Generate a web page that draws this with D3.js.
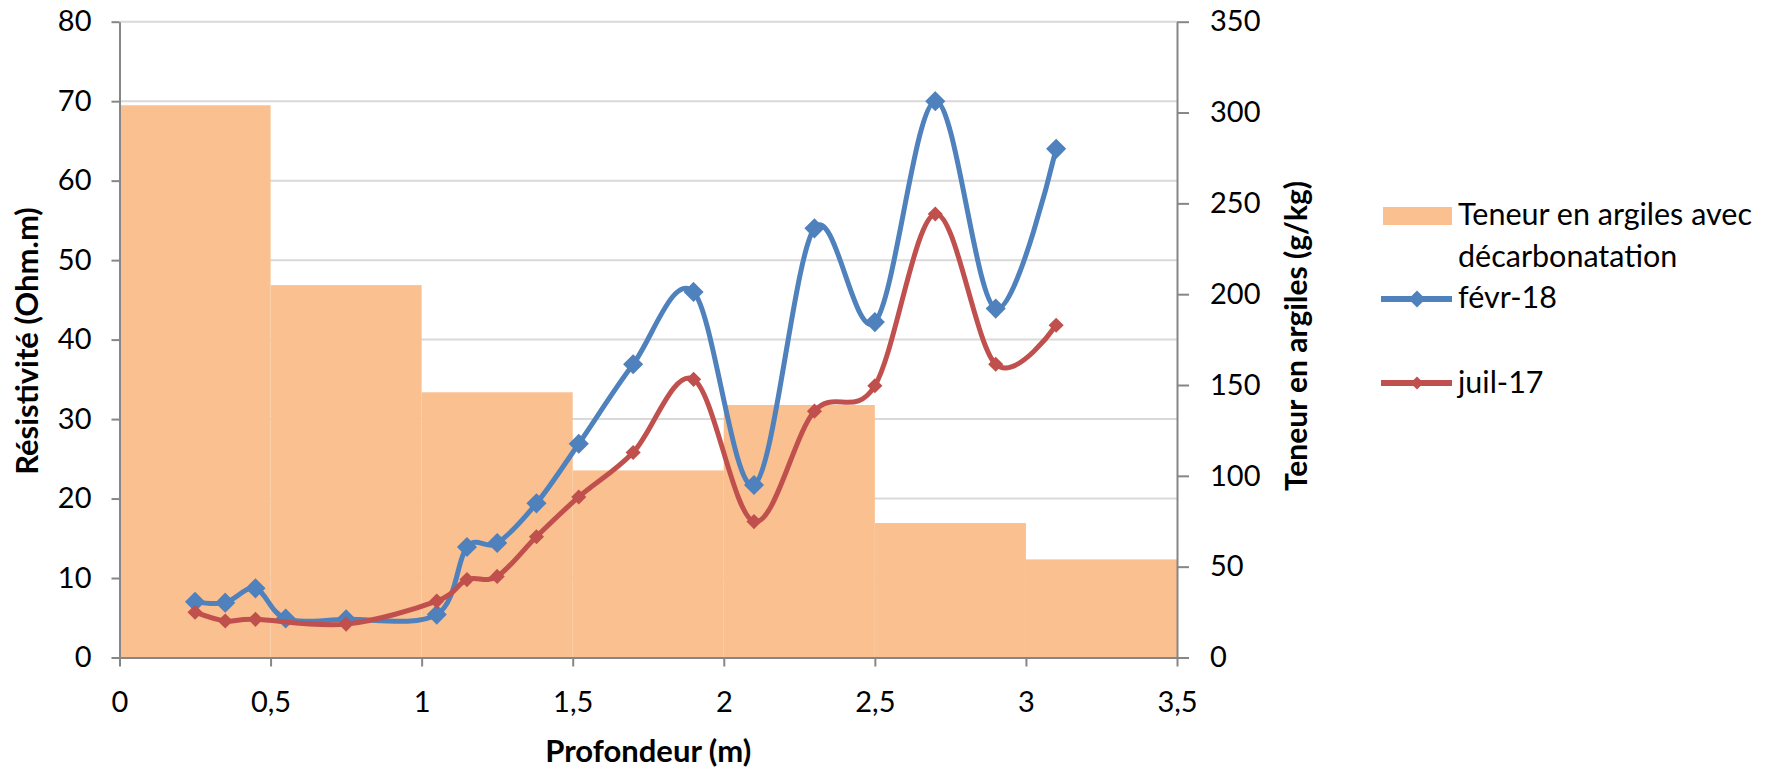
<!DOCTYPE html>
<html>
<head>
<meta charset="utf-8">
<script src="https://cdn.jsdelivr.net/npm/d3@7/dist/d3.min.js"></script>
<style>
  html, body { margin: 0; padding: 0; background: #fff; }
  svg { display: block; font-family: Lato, "Open Sans", sans-serif; }
</style>
</head>
<body>
<svg id="chart" width="1777" height="771"></svg>
<script>
// ---- Data ----
const clayStart = [0, 0.5, 1, 1.5, 2, 2.5, 3];
const clayEnd   = [0.5, 1, 1.5, 2, 2.5, 3, 3.5];
const clayValues = [304, 205, 146, 103, 139, 74, 54];

const febDepth = [0.25, 0.35, 0.45, 0.55, 0.75, 1.05, 1.15, 1.25, 1.38, 1.52, 1.70, 1.90, 2.10, 2.30, 2.50, 2.70, 2.90, 3.10];
const febValues = [7.0, 6.9, 8.7, 4.9, 4.8, 5.4, 13.9, 14.4, 19.4, 26.9, 36.9, 46.0, 21.7, 54.0, 42.2, 70.0, 43.9, 64.0];

const julDepth = [0.25, 0.35, 0.45, 0.75, 1.05, 1.15, 1.25, 1.38, 1.52, 1.70, 1.90, 2.10, 2.30, 2.50, 2.70, 2.90, 3.10];
const julValues = [5.7, 4.6, 4.8, 4.2, 7.1, 9.8, 10.2, 15.2, 20.2, 25.8, 35.0, 17.1, 31.0, 34.2, 55.8, 36.9, 41.8];

const xTicks = [0, 0.5, 1, 1.5, 2, 2.5, 3, 3.5];
const leftTicks = [0, 10, 20, 30, 40, 50, 60, 70, 80];
const rightTicks = [0, 50, 100, 150, 200, 250, 300, 350];

const seriesNames = ["Teneur en argiles avec", "décarbonatation", "févr-18", "juil-17"];
const xTitle = "Profondeur (m)";
const yLeftTitle = "Résistivité (Ohm.m)";
const yRightTitle = "Teneur en argiles (g/kg)";

// ---- Layout ----
const L = 119.5, R = 1177, T = 21.7, B = 657.5;
const colBlue = "#4F81BD", colRed = "#C0504D", colBar = "#FAC090";
const axisCol = "#868686", gridCol = "#D9D9D9";

const svg = d3.select("#chart");

const x = d3.scaleLinear().domain([0, 3.5]).range([L, R]);
const yL = d3.scaleLinear().domain([0, 80]).range([B, T]);
const yR = d3.scaleLinear().domain([0, 350]).range([B, T]);

const fmt = d => String(d).replace(".", ",");

// Gridlines
svg.append("g").selectAll("line")
  .data(leftTicks.filter(d => d > 0))
  .join("line")
  .attr("x1", L).attr("x2", R)
  .attr("y1", d => yL(d)).attr("y2", d => yL(d))
  .attr("stroke", gridCol).attr("stroke-width", 2);

// Clay bars
const clay = clayValues.map((v, i) => ({ s: clayStart[i], e: clayEnd[i], v }));
svg.append("g").selectAll("rect")
  .data(clay)
  .join("rect")
  .attr("x", d => x(d.s))
  .attr("width", d => x(d.e) - x(d.s))
  .attr("y", d => yR(d.v))
  .attr("height", d => yR(0) - yR(d.v))
  .attr("fill", colBar);

// Axes
function styleAxis(g) {
  g.selectAll(".domain").attr("stroke", axisCol).attr("stroke-width", 2);
  g.selectAll(".tick line").attr("stroke", axisCol).attr("stroke-width", 2);
  g.selectAll(".tick text").attr("fill", "#000").style("font-size", "29px")
    .style("font-family", "Lato, sans-serif");
}

svg.append("g").attr("transform", `translate(${L},0)`)
  .call(d3.axisLeft(yL).tickValues(leftTicks).tickSize(8).tickSizeOuter(0).tickPadding(20).tickFormat(fmt))
  .call(styleAxis);

svg.append("g").attr("transform", `translate(${R},0)`)
  .call(d3.axisRight(yR).tickValues(rightTicks).tickSize(12).tickSizeOuter(0).tickPadding(21).tickFormat(fmt))
  .call(styleAxis);

svg.append("g").attr("transform", `translate(0,${B})`)
  .call(d3.axisBottom(x).tickValues(xTicks).tickSize(9).tickSizeOuter(0).tickPadding(25).tickFormat(fmt))
  .call(styleAxis);

// Lines
const curve = d3.curveCardinal.tension(0);
function diamond(r) { return `M0,${-r}L${r},0L0,${r}L${-r},0Z`; }

function drawSeries(depths, vals, color, mr) {
  const pts = depths.map((d, i) => [d, vals[i]]);
  const line = d3.line().x(d => x(d[0])).y(d => yL(d[1])).curve(curve);
  const g = svg.append("g");
  g.append("path").datum(pts).attr("d", line)
    .attr("fill", "none").attr("stroke", color).attr("stroke-width", 5)
    .attr("stroke-linejoin", "round").attr("stroke-linecap", "round");
  g.selectAll("path.m").data(pts).join("path").attr("class", "m")
    .attr("d", diamond(mr))
    .attr("transform", d => `translate(${x(d[0])},${yL(d[1])})`)
    .attr("fill", color).attr("stroke", color).attr("stroke-width", 1.5);
}
drawSeries(febDepth, febValues, colBlue, 9);
drawSeries(julDepth, julValues, colRed, 6.5);

// Titles
svg.append("text").attr("x", (L + R) / 2).attr("y", 762)
  .attr("text-anchor", "middle").style("font-size", "31px").style("font-weight", "bold")
  .text(xTitle);
svg.append("text").attr("transform", "translate(38,341) rotate(-90)")
  .attr("text-anchor", "middle").style("font-size", "31px").style("font-weight", "bold")
  .text(yLeftTitle);
svg.append("text").attr("transform", "translate(1307,336) rotate(-90)")
  .attr("text-anchor", "middle").style("font-size", "30px").style("font-weight", "bold")
  .text(yRightTitle);

// Legend
const lg = svg.append("g");
const lfs = "30.5px";
lg.append("rect").attr("x", 1383).attr("y", 207).attr("width", 69).attr("height", 18).attr("fill", colBar);
lg.append("text").attr("x", 1458).attr("y", 225).style("font-size", lfs).text(seriesNames[0]);
lg.append("text").attr("x", 1458).attr("y", 267).style("font-size", lfs).text(seriesNames[1]);

function legendLine(yc, color, mr, label, base) {
  lg.append("line").attr("x1", 1381).attr("x2", 1452).attr("y1", yc).attr("y2", yc)
    .attr("stroke", color).attr("stroke-width", 6);
  lg.append("path").attr("d", diamond(mr)).attr("transform", `translate(1417,${yc})`)
    .attr("fill", color);
  lg.append("text").attr("x", 1458).attr("y", base).style("font-size", lfs).text(label);
}
legendLine(299, colBlue, 8.5, seriesNames[2], 308);
legendLine(383, colRed, 6.5, seriesNames[3], 393);
</script>
</body>
</html>
